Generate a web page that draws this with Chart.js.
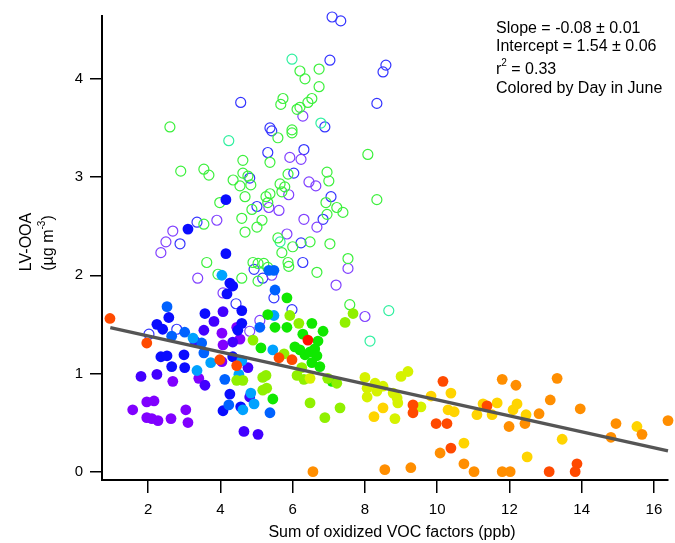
<!DOCTYPE html>
<html>
<head>
<meta charset="utf-8">
<script src="https://cdn.jsdelivr.net/npm/chart.js@4.4.0/dist/chart.umd.min.js"></script>
<style>
  body { margin: 0; background: #fff; }
  canvas { display: block; }
</style>
</head>
<body>
<canvas id="chart" width="675" height="543"></canvas>
<script>
// LV-OOA vs sum of oxidized VOC factors, coloured by day in June
const xTicks = [2, 4, 6, 8, 10, 12, 14, 16];
const yTicks = [0, 1, 2, 3, 4];

// fit result
const fitSlope = -0.0813;
const fitIntercept = 1.544;
const fitRange = [0.95, 16.39];

// open circles  [x, y]
const openGreen = [[6.34,4.00],[6.73,4.10],[6.73,3.92],[5.73,3.80],[5.67,3.74],[6.12,3.69],[6.20,3.71],[6.42,3.76],[6.53,3.80],[2.60,3.51],[5.59,3.40],[5.98,3.48],[5.98,3.45],[4.62,3.17],[5.37,3.15],[2.90,3.06],[3.54,3.08],[3.68,3.02],[4.62,3.04],[4.76,3.01],[4.84,2.92],[4.54,2.91],[4.35,2.97],[5.87,3.03],[5.65,2.93],[5.78,2.90],[5.70,2.85],[6.95,3.05],[7.00,2.96],[4.68,2.80],[5.26,2.80],[5.37,2.83],[5.31,2.74],[6.92,2.74],[7.22,2.69],[7.39,2.64],[3.98,2.74],[4.87,2.67],[4.59,2.58],[5.15,2.56],[5.01,2.49],[3.54,2.52],[4.68,2.44],[5.59,2.38],[6.48,2.34],[7.03,2.32],[6.00,2.29],[5.70,2.23],[3.62,2.13],[4.90,2.13],[5.04,2.12],[5.20,2.12],[5.31,2.08],[5.87,2.13],[5.89,2.09],[6.67,2.03],[3.93,2.01],[4.59,1.97],[5.04,1.94],[8.08,3.23],[8.33,2.77],[7.53,2.17],[6.95,2.62],[7.58,1.70],[6.20,4.08]];
const openTeal = [[5.98,4.20],[4.23,3.37],[6.78,3.55],[5.65,2.34],[8.66,1.64],[8.14,1.33]];
const openPurple = [[6.28,3.62],[5.92,3.20],[6.23,3.18],[6.45,2.95],[6.64,2.91],[5.89,2.82],[5.34,2.69],[5.62,2.66],[3.90,2.56],[6.31,2.57],[6.67,2.49],[2.68,2.45],[2.49,2.34],[2.35,2.23],[7.53,2.07],[3.37,1.97],[4.07,1.82],[5.84,2.42],[5.42,2.00],[7.20,1.90],[8.00,1.58],[5.09,1.54],[4.81,1.43]];
const openBlue = [[7.09,4.63],[7.33,4.59],[7.03,4.19],[8.58,4.14],[8.50,4.07],[8.33,3.75],[4.56,3.76],[6.89,3.51],[5.37,3.50],[5.42,3.47],[6.31,3.28],[5.31,3.25],[6.03,3.04],[4.81,2.99],[7.06,2.80],[5.01,2.70],[6.84,2.57],[3.35,2.54],[2.88,2.32],[6.23,2.33],[6.28,2.13],[4.93,2.06],[5.17,1.97],[5.48,1.77],[4.43,1.71],[5.98,1.65],[2.02,1.40],[2.79,1.45]];

// filled circles  [x, y]
const purpleDots = [[1.57,0.63],[1.96,0.71],[2.16,0.72],[1.96,0.55],[2.10,0.54],[2.27,0.52],[2.63,0.54],[3.04,0.63],[3.10,0.50],[2.68,0.92],[3.40,0.95],[4.04,1.41],[4.07,1.29],[4.04,1.12],[4.54,1.35],[4.45,1.47]];
const violetDots = [[1.80,0.97],[2.24,0.99],[3.57,0.88],[4.65,0.41],[5.04,0.38],[3.82,1.53],[3.54,1.44],[3.29,1.33],[4.34,1.32],[4.81,0.76],[4.07,1.63],[4.76,1.06]];
const blueDots = [[4.15,2.77],[3.10,2.47],[4.15,2.22],[4.26,1.92],[4.34,1.89],[4.18,1.81],[3.57,1.61],[4.59,1.64],[2.57,1.57],[2.24,1.50],[2.40,1.45],[4.59,1.51],[4.48,1.44],[2.35,1.17],[2.52,1.18],[2.99,1.19],[2.65,1.07],[3.01,1.06],[4.34,1.17],[4.26,0.79],[4.56,0.66],[4.07,0.62]];
const midBlueDots = [[5.34,2.05],[5.48,2.05],[5.51,1.85],[2.52,1.68],[2.65,1.38],[3.01,1.42],[3.48,1.31],[5.09,1.47],[3.54,1.21],[4.12,0.94],[4.23,0.68],[5.37,0.60]];
const skyDots = [[4.04,2.00],[3.24,1.36],[3.35,1.03],[3.73,1.11],[4.59,1.13],[4.51,0.99],[4.84,0.80],[4.93,0.69],[4.62,0.63],[5.48,1.59],[5.45,1.24]];
const greenDots = [[5.84,1.77],[5.31,1.60],[5.51,1.47],[5.84,1.47],[6.53,1.51],[6.84,1.43],[6.28,1.40],[6.70,1.33],[5.12,1.26],[6.06,1.27],[6.20,1.24],[6.34,1.19],[6.48,1.22],[6.61,1.25],[6.67,1.18],[6.53,1.11],[6.75,1.07],[7.09,0.92],[5.45,0.74]];
const limeDots = [[5.92,1.59],[6.17,1.51],[4.90,1.34],[5.76,1.20],[6.25,1.06],[6.12,0.98],[6.31,0.94],[6.97,0.95],[7.22,0.90],[6.48,0.70],[6.89,0.55],[7.31,0.65],[7.67,1.61],[7.45,1.52],[5.17,0.83],[5.28,0.85],[5.26,0.98],[5.17,0.96],[4.45,0.93],[4.62,0.93]];
const chartreuseDots = [[6.48,0.95],[8.00,0.96],[8.06,0.85],[8.28,0.90],[8.50,0.87],[8.33,0.82],[8.06,0.76],[9.00,0.97],[9.19,1.02],[8.78,0.80],[8.89,0.75],[8.91,0.70],[8.83,0.54],[9.55,0.66]];
const yellowDots = [[8.50,0.65],[8.25,0.56],[9.83,0.77],[10.38,0.80],[10.30,0.63],[10.47,0.61],[10.74,0.29],[11.27,0.69],[11.66,0.70],[11.52,0.58],[11.10,0.58],[12.10,0.63],[12.21,0.69],[12.46,0.58],[12.49,0.15],[13.46,0.33],[15.53,0.46]];
const orangeDots = [[6.56,0.00],[8.55,0.02],[9.27,0.04],[10.08,0.19],[10.74,0.08],[11.02,0.00],[11.80,0.94],[12.18,0.88],[11.99,0.46],[12.43,0.49],[11.80,0.00],[12.02,0.00],[13.32,0.95],[13.13,0.73],[12.82,0.59],[13.96,0.64],[14.95,0.49],[14.81,0.35],[15.67,0.38],[16.39,0.52]];
const redOrangeDots = [[0.94,1.56],[1.96,1.31],[3.98,1.14],[4.45,1.08],[5.62,1.16],[5.98,1.14],[9.33,0.68],[9.33,0.60],[10.16,0.92],[9.97,0.49],[10.27,0.49],[10.38,0.24],[13.10,0.00],[13.87,0.08],[13.82,0.00],[11.38,0.67]];
const redDots = [[6.42,1.34]];

const FONT = "'Liberation Sans', Arial, sans-serif";

function pts(arr) {
  return arr.map(p => ({ x: p[0], y: p[1] }));
}

function filled(arr, color) {
  return {
    data: pts(arr), backgroundColor: color, borderWidth: 0,
    pointRadius: 5.4, pointHoverRadius: 5.4, clip: false, order: 1
  };
}

function hollow(arr, color) {
  return {
    data: pts(arr), backgroundColor: 'rgba(0,0,0,0)', borderColor: color,
    borderWidth: 1.2, pointRadius: 5, pointHoverRadius: 5, clip: false, order: 2
  };
}

const fitLine = {
  type: 'line',
  data: fitRange.map(x => ({ x: x, y: fitIntercept + fitSlope * x })),
  borderColor: '#555555', borderWidth: 3.5, pointRadius: 0,
  fill: false, clip: false, order: 0
};

// titles + fit text (superscripts need manual placement)
const textPlugin = {
  id: 'texts',
  afterDraw(chart) {
    const ctx = chart.ctx;
    ctx.save();
    ctx.fillStyle = '#000';
    ctx.textBaseline = 'alphabetic';
    ctx.textAlign = 'left';

    const big = '16px ' + FONT;
    const small = '10px ' + FONT;

    // annotation block
    const ax = 496;
    ctx.font = big;
    ctx.fillText('Slope = -0.08 \u00b1 0.01', ax, 33);
    ctx.fillText('Intercept = 1.54 \u00b1 0.06', ax, 51);
    ctx.fillText('r', ax, 74);
    let w = ctx.measureText('r').width;
    ctx.font = small;
    ctx.fillText('2', ax + w, 66);
    w += ctx.measureText('2').width;
    ctx.font = big;
    ctx.fillText(' = 0.33', ax + w, 74);
    ctx.fillText('Colored by Day in June', ax, 93);

    // x title
    ctx.textAlign = 'center';
    ctx.fillText('Sum of oxidized VOC factors (ppb)', 392, 537);

    // y title, rotated
    ctx.save();
    ctx.translate(31, 242);
    ctx.rotate(-Math.PI / 2);
    ctx.textAlign = 'center';
    ctx.fillText('LV-OOA', 0, 0);
    ctx.restore();

    ctx.save();
    ctx.translate(53, 243);
    ctx.rotate(-Math.PI / 2);
    ctx.textAlign = 'left';
    ctx.font = big;
    const a = '(\u00b5g m', b = '-3', c = ')';
    const wa = ctx.measureText(a).width;
    const wc = ctx.measureText(c).width;
    ctx.font = small;
    const wb = ctx.measureText(b).width;
    let x0 = -(wa + wb + wc) / 2;
    ctx.font = big;
    ctx.fillText(a, x0, 0);
    ctx.font = small;
    ctx.fillText(b, x0 + wa, -8);
    ctx.font = big;
    ctx.fillText(c, x0 + wa + wb, 0);
    ctx.restore();

    ctx.restore();
  }
};

new Chart(document.getElementById('chart'), {
  type: 'scatter',
  data: {
    datasets: [
      fitLine,
      filled(redDots, '#ff1000'),
      filled(redOrangeDots, '#ff4a00'),
      filled(orangeDots, '#ff8e00'),
      filled(yellowDots, '#ffd400'),
      filled(chartreuseDots, '#d6f200'),
      filled(limeDots, '#90f000'),
      filled(greenDots, '#10e800'),
      filled(skyDots, '#00a2ff'),
      filled(midBlueDots, '#0062ff'),
      filled(blueDots, '#0a0cff'),
      filled(violetDots, '#4200ff'),
      filled(purpleDots, '#8000ff'),
      hollow(openGreen, '#3cf03c'),
      hollow(openTeal, '#30f0a0'),
      hollow(openPurple, '#8040ff'),
      hollow(openBlue, '#3434ff')
    ]
  },
  options: {
    responsive: false,
    animation: false,
    devicePixelRatio: 1,
    layout: { padding: { left: 0, right: 7, top: 16, bottom: 0 } },
    plugins: { legend: { display: false }, tooltip: { enabled: false } },
    scales: {
      x: {
        type: 'linear', min: 0.72, max: 16.39,
        afterBuildTicks: s => { s.ticks = xTicks.map(v => ({ value: v })); },
        afterFit: s => { s.height = 63; },
        ticks: { color: '#000', font: { size: 15, family: FONT }, padding: 8, maxRotation: 0, autoSkip: false },
        grid: { display: true, drawOnChartArea: false, drawTicks: true, tickLength: 13, color: '#000', lineWidth: 1.5 },
        border: { display: true, color: '#000', width: 2 }
      },
      y: {
        type: 'linear', min: -0.085, max: 4.64,
        afterBuildTicks: s => { s.ticks = yTicks.map(v => ({ value: v })); },
        afterFit: s => { s.width = 102; },
        ticks: { color: '#000', font: { size: 15, family: FONT }, padding: 7 },
        grid: { display: true, drawOnChartArea: false, drawTicks: true, tickLength: 12, color: '#000', lineWidth: 1.5 },
        border: { display: true, color: '#000', width: 2 }
      }
    }
  },
  plugins: [textPlugin]
});
</script>
</body>
</html>
